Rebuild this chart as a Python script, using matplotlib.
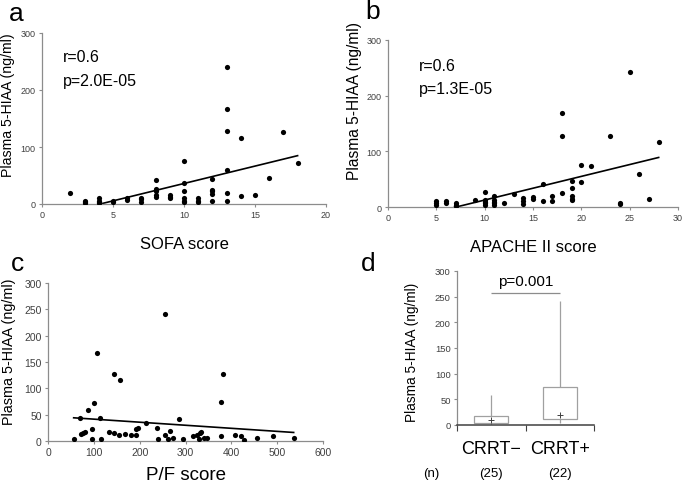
import matplotlib
matplotlib.use('Agg')
import numpy as np
import matplotlib.pyplot as plt

plt.rcParams['font.family'] = ['Liberation Sans', 'DejaVu Sans']

# panel a: SOFA score vs plasma 5-HIAA
sofa = [2, 3, 3, 3, 4, 4, 4, 4, 5, 5, 6, 6, 7, 7, 7, 8, 8, 8, 8, 8, 9, 9, 9,
        10, 10, 10, 10, 10, 10, 11, 11, 11, 12, 12, 12, 12, 12,
        13, 13, 13, 13, 13, 13, 14, 14, 15, 16, 17, 18]
hiaa_a = [19, 6, 3, 1, 10, 6, 4, 1, 6, 4, 10, 7, 10, 8, 4, 42, 26, 22, 16, 13, 16, 12, 10,
          75, 36, 22, 11, 6, 4, 10, 6, 4, 44, 25, 22, 17, 6,
          241, 167, 128, 59, 20, 5, 116, 14, 15, 45, 127, 72]
trend_a = (6.1, -25.0)   # slope, intercept

# panel b: APACHE II score vs plasma 5-HIAA
apache = [5, 5, 5, 6, 6, 7, 7, 7, 9, 10, 10, 10, 10, 10, 11, 11, 11, 11, 11, 12, 13,
          14, 14, 14, 15, 15, 16, 16, 17, 17, 18, 18, 18, 19, 19, 19, 19, 19,
          20, 20, 21, 23, 24, 24, 25, 26, 27, 28]
hiaa_b = [11, 7, 3, 11, 8, 8, 4, 2, 13, 27, 13, 9, 7, 4, 20, 13, 9, 7, 4, 7, 23,
          16, 11, 6, 18, 15, 42, 11, 20, 11, 168, 128, 25, 46, 35, 19, 15, 12,
          76, 45, 73, 127, 8, 6, 242, 60, 15, 116]
trend_b = (4.25, -30.0)

# panel c: P/F score vs plasma 5-HIAA
pf = [56, 69, 71, 76, 80, 87, 95, 97, 100, 106, 114, 115, 133, 144, 144, 154, 158,
      169, 180, 191, 193, 197, 214, 237, 239, 256, 256, 261, 267, 273, 285, 295,
      317, 324, 329, 332, 334, 340, 346, 377, 377, 382, 408, 420, 428, 455, 490, 536]
hiaa_c = [4, 44, 14, 15, 17, 59, 4, 22, 72, 167, 44, 4, 18, 127, 15, 11, 115,
          13, 11, 11, 22, 24, 34, 25, 3, 242, 12, 4, 19, 6, 41, 4,
          10, 12, 3, 16, 18, 5, 6, 75, 9, 128, 11, 9, 1, 6, 9, 6]
trend_c = (-0.058, 47.3)

# panel d: box summary (whisker low, q1, q3, whisker high, mean)
groups = ['CRRT\u2212', 'CRRT+']
n_counts = ['(25)', '(22)']
box_low = [0, 4]
box_q1 = [3, 12]
box_q3 = [18, 74]
box_high = [59, 241]
box_mean = [9, 20]
p_d = 'p=0.001'
sig_y = 258

W, H = 685, 485
fig = plt.figure(figsize=(W / 100, H / 100), dpi=100)
YLAB = 'Plasma 5-HIAA (ng/ml)'


def px_axes(x0, y0, x1, y1):
    return fig.add_axes([x0 / W, 1 - y1 / H, (x1 - x0) / W, (y1 - y0) / H])


def style(ax, tick_size):
    for s in ['top', 'right']:
        ax.spines[s].set_visible(False)
    for s in ['left', 'bottom']:
        ax.spines[s].set_color('#8c8c8c')
        ax.spines[s].set_linewidth(0.9)
    ax.tick_params(colors='#8c8c8c', labelcolor='#404040', labelsize=tick_size,
                   length=2.5, width=0.8, pad=2)


def ylabel_at(ax, size, xpx, ypx):
    # place the y label centre at a figure pixel position
    ax.set_ylabel(YLAB, fontsize=size)
    x, y = ax.transAxes.inverted().transform(
        fig.transFigure.transform((xpx / W, 1 - ypx / H)))
    ax.yaxis.set_label_coords(x, y)
    ax.yaxis.label.set_va('center')


def scatter_panel(ax, x, y, trend, xmax, xstep, ystep, tick_size):
    ax.scatter(x, y, s=14, color='black', zorder=3, linewidths=0)
    xs = np.array([min(x), max(x)])
    ax.plot(xs, trend[0] * xs + trend[1], color='black', lw=1.2, zorder=2)
    ax.set_xlim(0, xmax)
    ax.set_ylim(0, 300)
    ax.set_xticks(np.arange(0, xmax + 1, xstep))
    ax.set_yticks(np.arange(0, 301, ystep))
    style(ax, tick_size)


def panel_letter(xpx, ypx, s):
    fig.text(xpx / W, 1 - ypx / H, s, fontsize=19, va='center')


# a
ax = px_axes(42, 34, 326, 205)
scatter_panel(ax, sofa, hiaa_a, trend_a, 20, 5, 100, 6.5)
ax.set_xlabel('SOFA score', fontsize=12, labelpad=12)
ylabel_at(ax, 10.2, 8, 105)
ax.text(0.075, 0.86, 'r=0.6', transform=ax.transAxes, fontsize=11.5, va='center')
ax.text(0.075, 0.72, 'p=2.0E-05', transform=ax.transAxes, fontsize=11.5, va='center')
panel_letter(9, 14, 'a')

# b
ax = px_axes(388, 41, 678, 208)
scatter_panel(ax, apache, hiaa_b, trend_b, 30, 5, 100, 6.5)
ax.set_xlabel('APACHE II score', fontsize=12, labelpad=12)
ylabel_at(ax, 11.2, 355, 101)
ax.text(0.105, 0.85, 'r=0.6', transform=ax.transAxes, fontsize=11.5, va='center')
ax.text(0.105, 0.71, 'p=1.3E-05', transform=ax.transAxes, fontsize=11.5, va='center')
panel_letter(365, 12, 'b')

# c
ax = px_axes(48, 284, 323, 442)
scatter_panel(ax, pf, hiaa_c, trend_c, 600, 100, 50, 7.5)
ax.set_xlabel('P/F score', fontsize=13.5, labelpad=6)
ylabel_at(ax, 10.4, 9, 352)
panel_letter(11, 264, 'c')

# d
ax = px_axes(457, 272, 594, 426)
pos = np.arange(len(groups))
for i in pos:
    ax.vlines(i, box_low[i], box_q1[i], color='#a0a0a0', lw=0.9)
    ax.vlines(i, box_q3[i], box_high[i], color='#a0a0a0', lw=0.9)
    ax.bar(i, box_q3[i] - box_q1[i], bottom=box_q1[i], width=0.5,
           facecolor='white', edgecolor='#a0a0a0', lw=0.9, zorder=2)
    ax.plot(i, box_mean[i], marker='+', color='#404040', ms=5, mew=0.7, zorder=3)
ax.hlines(sig_y, pos[0], pos[1], color='#8c8c8c', lw=0.9)
ax.text(pos.mean(), sig_y + 8, p_d, ha='center', va='bottom', fontsize=11)
ax.set_xlim(-0.5, 1.5)
ax.set_ylim(0, 300)
ax.set_yticks(np.arange(0, 301, 50))
ax.set_xticks([-0.5, 0.5, 1.5])
ax.set_xticklabels([])
style(ax, 6.8)
ax.tick_params(axis='x', colors='#404040', length=4)
ax.spines['bottom'].set_color('#404040')
ax.spines['bottom'].set_linewidth(1.1)
ylabel_at(ax, 9.8, 412, 352)
for i, g in enumerate(groups):
    ax.text(i, -0.15, g, transform=ax.get_xaxis_transform(), ha='center',
            va='center', fontsize=13)
    ax.text(i, -0.31, n_counts[i], transform=ax.get_xaxis_transform(),
            ha='center', va='center', fontsize=9.5)
ax.text(-0.88, -0.31, '(n)', transform=ax.get_xaxis_transform(),
        ha='center', va='center', fontsize=9.5)
panel_letter(361, 264, 'd')

fig.savefig('out.png', dpi=100)
